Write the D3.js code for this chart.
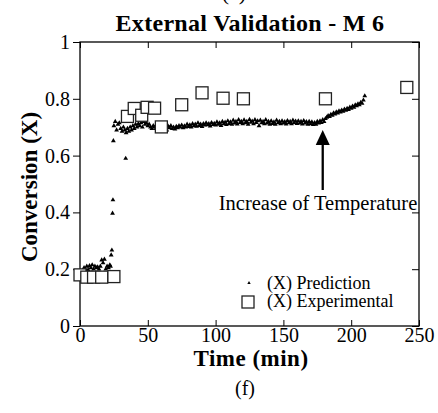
<!DOCTYPE html>
<meta charset="utf-8">
<style>
html, body { margin: 0; background: white; }
svg { display: block; }
.axis path { display: none; }
.axis line { stroke: #000; stroke-width: 1; }
</style>
<body>
<script src="https://cdn.jsdelivr.net/npm/d3@7"></script>
<script>

var width = 438,
    height = 413;
var serif = "'Liberation Serif'";

// experimental points (time in min, conversion)
var expTime = [0, 5, 10, 16, 25, 35, 40, 45.5, 49.5, 55, 60, 75, 90, 105.5, 120.5, 181, 241];
var expConv = [0.18, 0.172, 0.172, 0.172, 0.174, 0.738, 0.766, 0.742, 0.77, 0.767, 0.701, 0.779, 0.821, 0.802, 0.8, 0.8, 0.84];

// model prediction
var predTime = [2, 3, 4, 5, 6, 7, 8, 9, 10, 11, 12, 13, 14, 15, 16, 17, 18, 19, 20, 21, 22, 22.5, 23, 23.5, 24, 24.3, 24.6, 33.7,
  25, 26, 27, 28, 29, 30, 31, 32, 33, 34, 35, 36, 37, 38, 39, 40, 41, 42, 43, 44, 45, 46, 47, 48, 49, 50,
  51, 52, 53, 54, 55, 56, 57, 58, 59, 60, 61, 62, 63, 64, 65, 66, 67, 68, 69, 70, 71, 72, 73, 74, 75, 76, 77, 78, 79, 80,
  81, 82, 83, 84, 85, 86, 87, 88, 89, 90, 91, 92, 93, 94, 95, 96, 97, 98, 99, 100, 101, 102, 103, 104, 105, 106, 107, 108, 109, 110,
  111, 112, 113, 114, 115, 116, 117, 118, 119, 120, 121, 122, 123, 124, 125, 126, 127, 128, 129, 130, 131, 132, 133, 134, 135, 136, 137, 138, 139, 140,
  141, 142, 143, 144, 145, 146, 147, 148, 149, 150, 151, 152, 153, 154, 155, 156, 157, 158, 159, 160, 161, 162, 163, 164, 165, 166, 167, 168, 169, 170,
  171, 172, 173, 174, 175, 176, 177, 178, 179, 180, 181, 182, 183, 184, 185, 186, 187, 188, 189, 190, 191, 192, 193, 194, 195, 196, 197, 198, 199, 200,
  201, 202, 203, 204, 205, 206, 207, 208, 209, 210];
var predConv = [0.195, 0.205, 0.2, 0.21, 0.198, 0.212, 0.205, 0.215, 0.2, 0.21, 0.205, 0.208, 0.2, 0.21, 0.232, 0.222, 0.235, 0.2, 0.21, 0.205, 0.215, 0.21, 0.25, 0.267, 0.397, 0.444, 0.652, 0.59,
  0.705, 0.72, 0.69, 0.71, 0.715, 0.695, 0.685, 0.7, 0.69, 0.68, 0.695, 0.685, 0.7, 0.69, 0.705, 0.695, 0.71, 0.7, 0.712, 0.705, 0.715, 0.7, 0.72, 0.71, 0.715, 0.705,
  0.71, 0.7, 0.695, 0.705, 0.7, 0.695, 0.705, 0.7, 0.695, 0.7, 0.705, 0.695, 0.7, 0.69, 0.703, 0.698, 0.705, 0.695, 0.7, 0.693, 0.702, 0.698, 0.705, 0.7, 0.707, 0.698, 0.704, 0.7, 0.71, 0.702,
  0.708, 0.7, 0.712, 0.705, 0.71, 0.703, 0.715, 0.706, 0.71, 0.702, 0.712, 0.707, 0.715, 0.708, 0.712, 0.704, 0.716, 0.709, 0.713, 0.707, 0.718, 0.71, 0.715, 0.706, 0.72, 0.712, 0.717, 0.709, 0.722, 0.713,
  0.718, 0.71, 0.724, 0.714, 0.72, 0.711, 0.726, 0.716, 0.72, 0.712, 0.725, 0.715, 0.72, 0.71, 0.727, 0.717, 0.721, 0.712, 0.726, 0.716, 0.722, 0.705, 0.724, 0.715, 0.72, 0.712, 0.726, 0.714, 0.72, 0.71,
  0.722, 0.713, 0.718, 0.71, 0.724, 0.715, 0.72, 0.712, 0.722, 0.714, 0.719, 0.711, 0.723, 0.715, 0.72, 0.712, 0.724, 0.716, 0.721, 0.713, 0.722, 0.714, 0.72, 0.711, 0.723, 0.714, 0.719, 0.71, 0.72, 0.712,
  0.718, 0.709, 0.716, 0.71, 0.72, 0.714, 0.722, 0.716, 0.726, 0.72, 0.73, 0.735, 0.74, 0.737, 0.745, 0.742, 0.75, 0.746, 0.753, 0.75, 0.757, 0.753, 0.76, 0.756, 0.763, 0.759, 0.766, 0.762, 0.77, 0.766,
  0.774, 0.77, 0.778, 0.775, 0.782, 0.779, 0.787, 0.784, 0.795, 0.81];

var xTicks = [0, 50, 100, 150, 200, 250];
var yTicks = [0, 0.2, 0.4, 0.6, 0.8, 1];

var x = d3.scaleLinear().domain([0, 250]).range([80, 419]);
var y = d3.scaleLinear().domain([0, 1]).range([326, 42]);

var svg = d3.select("body").append("svg")
    .attr("width", width)
    .attr("height", height);

function label(px, py, txt, size, bold, anchor) {
    return svg.append("text")
        .attr("x", px).attr("y", py)
        .attr("text-anchor", anchor || "middle")
        .style("font-family", serif)
        .style("font-size", size + "px")
        .style("font-weight", bold ? "bold" : "normal")
        .text(txt);
}

// cut-off label of the panel above
label(234, 0, "(e)", 22);

label(250, 31, "External Validation - M 6", 24, true)
    .style("letter-spacing", "0.3px");

var yFmt = function(d) { return (d === 0 || d === 1) ? String(d) : d3.format(".1f")(d); };

svg.append("g")
    .attr("class", "axis")
    .attr("transform", "translate(80,0)")
    .call(d3.axisLeft(y).tickValues(yTicks).tickSize(7).tickPadding(3).tickFormat(yFmt))
    .selectAll("text").style("font-size", "20px").style("font-family", serif).attr("fill", "#000");

svg.append("g")
    .attr("class", "axis")
    .attr("transform", "translate(419,0)")
    .call(d3.axisRight(y).tickValues(yTicks).tickSize(-7).tickFormat(""));

svg.append("g")
    .attr("class", "axis")
    .attr("transform", "translate(0,326)")
    .call(d3.axisBottom(x).tickValues(xTicks).tickSizeInner(-6).tickSizeOuter(0).tickPadding(2).tickFormat(d3.format("d")))
    .selectAll("text").style("font-size", "20px").style("font-family", serif).attr("fill", "#000");

svg.append("g")
    .attr("class", "axis")
    .attr("transform", "translate(0,42)")
    .call(d3.axisTop(x).tickValues(xTicks).tickSize(-6).tickFormat(""));

svg.append("rect")
    .attr("x", x(0)).attr("y", y(1))
    .attr("width", x(250) - x(0)).attr("height", y(0) - y(1))
    .attr("fill", "none").attr("stroke", "#000").attr("stroke-width", 1.3);

// prediction dots
var tri = d3.symbol().type(d3.symbolTriangle).size(10);
svg.append("g")
  .selectAll("path")
    .data(predTime.map(function(t, i) { return [t, predConv[i]]; }))
  .enter().append("path")
    .attr("d", tri)
    .attr("transform", function(d) { return "translate(" + x(d[0]) + "," + y(d[1]) + ")"; })
    .attr("fill", "#000");

// experimental squares
var sq = 12;
svg.append("g")
  .selectAll("rect")
    .data(expTime.map(function(t, i) { return [t, expConv[i]]; }))
  .enter().append("rect")
    .attr("x", function(d) { return x(d[0]) - sq / 2; })
    .attr("y", function(d) { return y(d[1]) - sq / 2; })
    .attr("width", sq).attr("height", sq)
    .attr("fill", "#fff")
    .attr("stroke", "#222")
    .attr("stroke-width", 1.3);

// annotation arrow
var arrowT = 179;
svg.append("line")
    .attr("x1", x(arrowT)).attr("x2", x(arrowT))
    .attr("y1", 190).attr("y2", 143)
    .attr("stroke", "#000").attr("stroke-width", 2.3);
svg.append("path")
    .attr("d", "M" + (x(arrowT) - 7) + ",145L" + (x(arrowT) + 7) + ",145L" + x(arrowT) + ",130Z")
    .attr("fill", "#000");
label(318, 210, "Increase of Temperature", 20.5);

// legend
svg.append("path")
    .attr("d", d3.symbol().type(d3.symbolTriangle).size(5))
    .attr("transform", "translate(249,283)")
    .attr("fill", "#000");
label(267, 289, "(X) Prediction", 18, false, "start");
svg.append("rect")
    .attr("x", 248 - sq / 2).attr("y", 302 - sq / 2)
    .attr("width", sq).attr("height", sq)
    .attr("fill", "#fff").attr("stroke", "#222").attr("stroke-width", 1.3);
label(267, 307, "(X) Experimental", 18, false, "start");

label(251, 366, "Time (min)", 23, true)
    .style("letter-spacing", "0.5px");

label(0, 0, "Conversion (X)", 23, true)
    .attr("transform", "translate(37,187) rotate(-90)");

label(245, 395, "(f)", 20);

</script>
